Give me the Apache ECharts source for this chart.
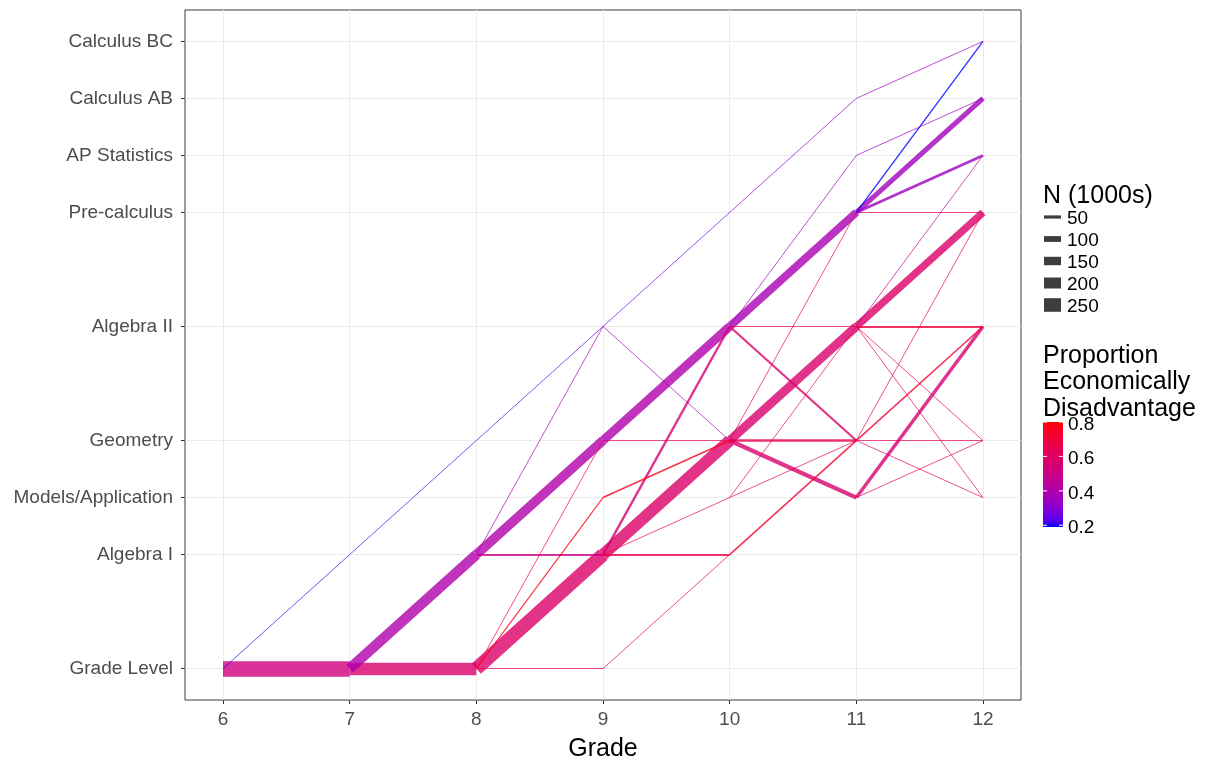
<!DOCTYPE html>
<html><head><meta charset="utf-8">
<script src="https://cdn.jsdelivr.net/npm/echarts@6/dist/echarts.min.js"></script>
<style>html,body{margin:0;padding:0;background:#fff}#c{width:1209px;height:763px}</style>
</head><body><div id="c"></div>
<script>
// ---- data ----
const courses = ['Grade Level','Algebra I','Models/Application','Geometry','Algebra II','Pre-calculus','AP Statistics','Calculus AB','Calculus BC'];
const coursePos = [0,2,3,4,6,8,9,10,11];
const grades = [6,7,8,9,10,11,12];
// segment from grade g (course index a) to grade g+1 (course index b)
const segGrade = [6,6, 7,7,7, 8,8,8,8,8,8,8,8, 9,9,9,9,9,9,9,9,9,9, 10,10,10,10,10,10,10,10,10,10,10,10, 11,11,11,11,11,11,11,11,11,11,11,11,11,11,11,11,11];
const segFrom  = [0,0, 0,0,1, 0,0,0,0,1,1,1,3, 0,1,1,1,1,2,3,3,4,4, 1,2,2,3,3,3,3,4,4,4,4,5, 2,2,3,3,3,3,4,4,4,4,4,5,5,5,5,6,7];
const segTo    = [0,1, 0,1,3, 0,1,2,3,1,3,4,4, 1,1,2,3,4,3,3,4,3,5, 3,3,4,3,2,4,5,3,4,5,6,7, 3,4,3,2,4,5,2,3,4,5,6,5,6,7,8,7,8];
const segN     = [290,5, 225,185,5, 5,250,10,5,25,170,5,5, 5,25,5,215,35,20,5,160,5,5, 20,5,5,40,70,160,5,30,5,140,5,5, 5,55,5,5,20,5,5,5,25,130,5,5,40,85,15,5,5];
const segProp  = [0.52,0.20, 0.57,0.40,0.21, 0.70,0.58,0.78,0.68,0.50,0.41,0.38,0.23, 0.70,0.68,0.66,0.58,0.55,0.76,0.66,0.40,0.38,0.26, 0.72,0.62,0.64,0.66,0.57,0.57,0.62,0.58,0.66,0.38,0.36,0.31, 0.62,0.56,0.64,0.62,0.72,0.62,0.62,0.64,0.70,0.58,0.48,0.62,0.35,0.36,0.19,0.35,0.35];
const sizeBreaks = [50,100,150,200,250];
const colorBreaks = [0.2,0.4,0.6,0.8];
const colorLimits = [0.19,0.80];

// ---- scales ----
function lw(n){return 0.6+0.052*n;}
function toLin(c){c/=255;return c<=0.04045?c/12.92:Math.pow((c+0.055)/1.055,2.4);}
function toS(c){c=Math.max(0,Math.min(1,c));return Math.round(255*(c<=0.0031308?12.92*c:1.055*Math.pow(c,1/2.4)-0.055));}
function rgb2lab(r,g,b){r=toLin(r);g=toLin(g);b=toLin(b);
  let X=(0.4124*r+0.3576*g+0.1805*b)/0.95047,Y=(0.2126*r+0.7152*g+0.0722*b),Z=(0.0193*r+0.1192*g+0.9505*b)/1.08883;
  const f=t=>t>0.008856?Math.cbrt(t):7.787*t+16/116;
  const fx=f(X),fy=f(Y),fz=f(Z);return [116*fy-16,500*(fx-fy),200*(fy-fz)];}
function lab2rgb(L,a,b){const fy=(L+16)/116,fx=fy+a/500,fz=fy-b/200;
  const fi=t=>t*t*t>0.008856?t*t*t:(t-16/116)/7.787;
  const X=fi(fx)*0.95047,Y=fi(fy),Z=fi(fz)*1.08883;
  const r=3.2406*X-1.5372*Y-0.4986*Z,g=-0.9689*X+1.8758*Y+0.0415*Z,bb=0.0557*X-0.2040*Y+1.0570*Z;
  return [toS(r),toS(g),toS(bb)];}
const LOW=rgb2lab(0,0,255),HIGH=rgb2lab(255,0,0);
function colOf(p,alpha){let t=(p-colorLimits[0])/(colorLimits[1]-colorLimits[0]);t=Math.max(0,Math.min(1,t));
  const c=lab2rgb(LOW[0]+(HIGH[0]-LOW[0])*t,LOW[1]+(HIGH[1]-LOW[1])*t,LOW[2]+(HIGH[2]-LOW[2])*t);
  return 'rgba('+c[0]+','+c[1]+','+c[2]+','+alpha+')';}

// ---- segments ----
const idx=segGrade.map((g,i)=>i).sort((a,b)=>segGrade[a]-segGrade[b]||segN[b]-segN[a]);
const segData=idx.map(i=>({coords:[[segGrade[i],coursePos[segFrom[i]]],[segGrade[i]+1,coursePos[segTo[i]]]],
  lineStyle:{width:lw(segN[i]),color:colOf(segProp[i],0.8),opacity:1}}));

// ---- legend graphics ----
const FONT='"Liberation Sans", Arial, sans-serif';
const g=[];
g.push({type:'text',x:1043,y:196,style:{text:'N (1000s)',font:'25px '+FONT,fill:'#000',textVerticalAlign:'middle'}});
sizeBreaks.forEach((n,i)=>{const y=217+22*i;
  g.push({type:'line',shape:{x1:1044,y1:y,x2:1061,y2:y},style:{stroke:'rgba(51,51,51,0.95)',lineWidth:lw(n)}});
  g.push({type:'text',x:1067,y:y+2,style:{text:String(n),font:'19px '+FONT,fill:'#000',textVerticalAlign:'middle'}});});
['Proportion','Economically','Disadvantage'].forEach((t,i)=>{
  g.push({type:'text',x:1043,y:356+26.5*i,style:{text:t,font:'25px '+FONT,fill:'#000',textVerticalAlign:'middle'}});});
const cbTop=422,cbH=105,cbX=1043,cbW=20;
const stops=[];for(let k=0;k<=20;k++){const v=colorLimits[1]-(colorLimits[1]-colorLimits[0])*k/20;stops.push({offset:k/20,color:colOf(v,1)});}
g.push({type:'rect',shape:{x:cbX,y:cbTop,width:cbW,height:cbH},style:{fill:new echarts.graphic.LinearGradient(0,0,0,1,stops)}});
colorBreaks.forEach(v=>{const y=cbTop+cbH-(v-colorLimits[0])/(colorLimits[1]-colorLimits[0])*cbH;
  g.push({type:'line',shape:{x1:cbX,y1:y,x2:cbX+4,y2:y},style:{stroke:'#fff',lineWidth:1}});
  g.push({type:'line',shape:{x1:cbX+cbW-4,y1:y,x2:cbX+cbW,y2:y},style:{stroke:'#fff',lineWidth:1}});
  g.push({type:'text',x:1068,y:y+2.5,style:{text:v.toFixed(1),font:'19px '+FONT,fill:'#000',textVerticalAlign:'middle'}});});

const chart=echarts.init(document.getElementById('c'),null,{renderer:'canvas'});
chart.setOption({
  animation:false,
  backgroundColor:'#fff',
  textStyle:{fontFamily:FONT},
  grid:{left:185,top:10,width:836,height:690,show:true,borderColor:'#3a3a3a',borderWidth:1,backgroundColor:'#fff',
    containLabel:false,outerBoundsMode:'none'},
  xAxis:{type:'value',min:5.7,max:12.3,
    name:'Grade',nameLocation:'middle',nameGap:37,nameTextStyle:{fontSize:25,color:'#000',fontFamily:FONT},
    axisLine:{show:false,onZero:false},
    axisTick:{show:true,length:4,customValues:grades,lineStyle:{color:'#333',width:1}},
    axisLabel:{customValues:grades,fontSize:19,color:'#4d4d4d',margin:10,fontFamily:FONT},
    splitLine:{show:true,lineStyle:{color:'#ebebeb',width:1}}},
  yAxis:{type:'value',min:-0.55,max:11.55,
    axisLine:{show:false,onZero:false},
    axisTick:{show:true,length:4,customValues:coursePos,lineStyle:{color:'#333',width:1}},
    axisLabel:{customValues:coursePos,fontSize:19,color:'#4d4d4d',margin:12,fontFamily:FONT,
      formatter:v=>{const k=coursePos.indexOf(Math.round(v));return k>=0?courses[k]:'';}},
    splitLine:{show:true,lineStyle:{color:'#ebebeb',width:1}}},
  series:[{type:'lines',coordinateSystem:'cartesian2d',polyline:false,silent:true,
    lineStyle:{opacity:1,cap:'butt'},data:segData,z:3}],
  graphic:g
});
</script></body></html>
